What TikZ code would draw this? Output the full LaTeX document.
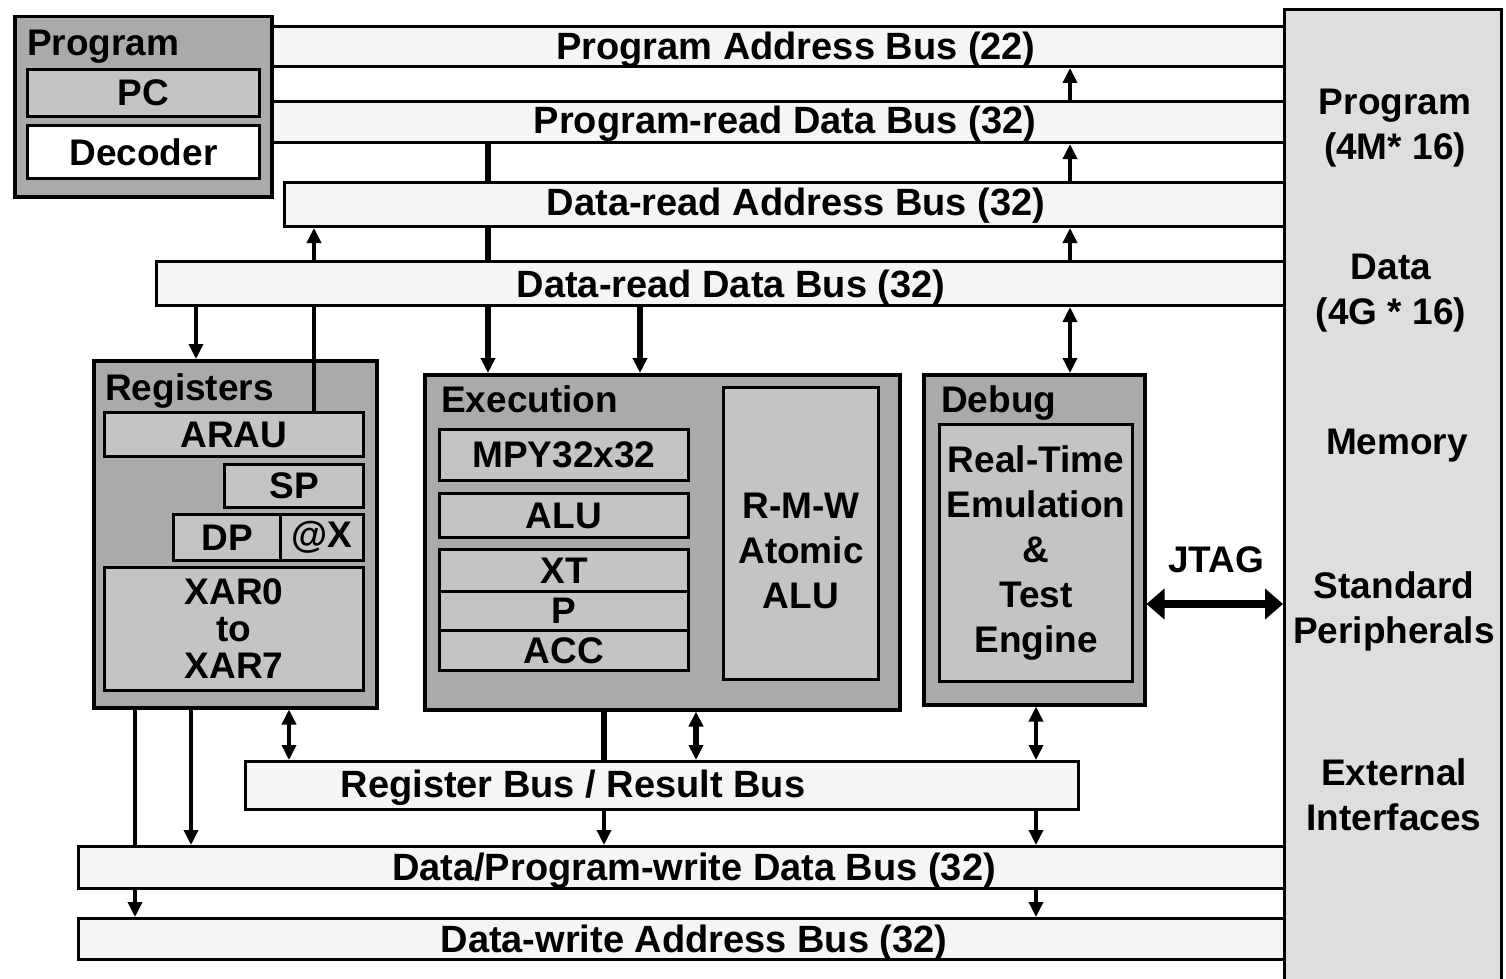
\documentclass[tikz,border=0pt]{standalone}
\usepackage{fontspec}
\setmainfont{Liberation Sans}
\usetikzlibrary{arrows.meta}

\definecolor{blockgray}{RGB}{170,170,170}
\definecolor{unitgray}{RGB}{196,196,196}
\definecolor{memgray}{RGB}{222,222,222}
\definecolor{busgray}{RGB}{245,245,245}

\newcommand{\blkfont}{\fontsize{37}{45}\selectfont\bfseries}
\newcommand{\busfont}{\fontsize{38}{45}\selectfont\bfseries}
\newcommand{\xarfont}{\fontsize{37}{37}\selectfont\bfseries}

\tikzset{
  wh/.style 2 args={minimum width=#1pt, minimum height=#2pt},
  blk/.style={draw, line width=3.5pt, fill=blockgray, anchor=north west, inner sep=0pt},
  unit/.style={draw, line width=3pt, fill=unitgray, anchor=north west, inner sep=0pt, font=\blkfont},
  bus/.style={draw, line width=3pt, fill=busgray, anchor=north west, inner sep=0pt},
  memory/.style={draw, line width=3pt, fill=memgray, anchor=north west, inner sep=0pt},
  title/.style={anchor=base west, inner sep=0pt, font=\blkfont},
  buslabel/.style={anchor=base, inner sep=0pt, font=\busfont},
  memtext/.style={align=center, inner sep=0pt, font=\blkfont},
  wire/.style={line width=3.5pt},
  fatwire/.style={line width=6pt},
  jtag/.style={line width=8pt, >={Triangle[length=18pt,width=30pt]}, <->}
}

\begin{document}
\begin{tikzpicture}[x=1pt, y=-1pt, >={Triangle[length=15pt,width=14pt]}]

  \useasboundingbox (0,0) rectangle (1506,979);

  % buses
  \node[bus, wh={1013}{40}] (pab)  at (270,25)  {};
  \node[bus, wh={1013}{41}] (prdb) at (270,100) {};
  \node[bus, wh={1000}{44}] (drab) at (283,181) {};
  \node[bus, wh={1128}{44}] (drdb) at (155,260) {};
  \node[bus, wh={833}{48}]  (rrb)  at (244,760) {};
  \node[bus, wh={1206}{42}] (dpw)  at (77,845)  {};
  \node[bus, wh={1206}{41}] (dwa)  at (77,917)  {};

  \node[buslabel] (pabt)  at (796,60)  {Program Address Bus (22)};
  \node[buslabel] (prdbt) at (785,134) {Program-read Data Bus (32)};
  \node[buslabel] (drabt) at (796,215) {Data-read Address Bus (32)};
  \node[buslabel] (drdbt) at (731,297) {Data-read Data Bus (32)};
  \node[buslabel] (rrbt)  at (573,797) {Register Bus / Result Bus};
  \node[buslabel] (dpwt)  at (694,880) {Data/Program-write Data Bus (32)};
  \node[buslabel] (dwat)  at (694,952) {Data-write Address Bus (32)};

  % memory side
  \node[memory, wh={217}{985}] (mem) at (1283,8) {};
  \node[memtext] (mprog) at (1395,128) {Program\\(4M* 16)};
  \node[memtext] (mdata) at (1391,293) {Data\\(4G * 16)};
  \node[memtext] (mmem)  at (1397,446) {Memory};
  \node[memtext] (mper)  at (1394,611) {Standard\\Peripherals};
  \node[memtext] (mext)  at (1394,795) {External\\Interfaces};

  % program
  \node[blk, wh={257}{180}] (prog) at (13,15) {};
  \node[title] (progt) at (27,56) {Program};
  \node[unit, wh={232}{47}] (pc) at (26,68) {PC};
  \node[unit, fill=white, wh={232}{53}] (dec) at (26,124) {Decoder};

  % registers
  \node[blk, wh={283}{347}] (regs) at (92,359) {};
  \node[title] (regst) at (105,400) {Registers};
  \node[unit, wh={259}{44}] (arau) at (103,411) {ARAU};
  \node[unit, wh={139}{43}] (sp) at (223,463) {SP};
  \node[unit, wh={107}{46}] (dp) at (172,513) {DP};
  \node[unit, wh={83}{46}] (atx) at (279,513) {@X};
  \node[unit, wh={259}{123}, font=\xarfont, align=center] (xar) at (103,566) {XAR0\\to\\XAR7};

  % execution
  \node[blk, wh={475}{335}] (exec) at (423,373) {};
  \node[title] (exect) at (441,412) {Execution};
  \node[unit, wh={249}{51}] (mpy) at (438,428) {MPY32x32};
  \node[unit, wh={249}{44}] (alu) at (438,492) {ALU};
  \node[unit, wh={249}{42}] (xt) at (438,548) {XT};
  \node[unit, wh={249}{39}] (p) at (438,590) {P};
  \node[unit, wh={249}{40}] (acc) at (438,629) {ACC};
  \node[unit, wh={155}{292},
    label={[yshift=-17pt, align=center, font=\blkfont]center:R-M-W\\Atomic\\ALU}] (rmw) at (722,386) {};

  % debug
  \node[blk, wh={221}{330}] (debug) at (922,373) {};
  \node[title] (debugt) at (941,412) {Debug};
  \node[unit, wh={193}{257}, align=center] (rte) at (938,423) {Real-Time\\Emulation\\\&\\Test\\Engine};
  \node[inner sep=0pt, font=\blkfont] (jtagt) at (1216,560) {JTAG};

  % columns of the connectors
  \coordinate (c1) at (1070,0);  \coordinate (c2) at (488,0);
  \coordinate (c3) at (314,0);   \coordinate (c4) at (196,0);
  \coordinate (c5) at (640,0);   \coordinate (c6) at (135,0);
  \coordinate (c7) at (191,0);   \coordinate (c8) at (289,0);
  \coordinate (c9) at (604,0);   \coordinate (c10) at (696,0);
  \coordinate (c11) at (1036,0); \coordinate (c12) at (0,604);

  % read side
  \draw[wire,->] (prdb.north -| c1) -- (pab.south -| c1);
  \draw[wire,->] (drab.north -| c1) -- (prdb.south -| c1);
  \draw[wire,->] (drdb.north -| c1) -- (drab.south -| c1);
  \draw[wire,<->] (debug.north -| c1) -- (drdb.south -| c1);

  \draw[fatwire] (prdb.south -| c2) -- (drab.north -| c2);
  \draw[fatwire] (drab.south -| c2) -- (drdb.north -| c2);
  \draw[fatwire,->] (drdb.south -| c2) -- (exec.north -| c2);
  \draw[fatwire,->] (drdb.south -| c5) -- (exec.north -| c5);

  \draw[wire,->] (drdb.north -| c3) -- (drab.south -| c3);
  \draw[wire] (arau.north -| c3) -- (drdb.south -| c3);
  \draw[wire,->] (drdb.south -| c4) -- (regs.north -| c4);

  % write side
  \draw[wire] (regs.south -| c6) -- (dpw.north -| c6);
  \draw[wire,->] (dpw.south -| c6) -- (dwa.north -| c6);
  \draw[wire,->] (regs.south -| c7) -- (dpw.north -| c7);
  \draw[wire,<->] (regs.south -| c8) -- (rrb.north -| c8);

  \draw[fatwire] (exec.south -| c9) -- (rrb.north -| c9);
  \draw[wire,->] (rrb.south -| c9) -- (dpw.north -| c9);
  \draw[fatwire,<->] (exec.south -| c10) -- (rrb.north -| c10);

  \draw[wire,<->] (debug.south -| c11) -- (rrb.north -| c11);
  \draw[wire,->] (rrb.south -| c11) -- (dpw.north -| c11);
  \draw[wire,->] (dpw.south -| c11) -- (dwa.north -| c11);

  \draw[jtag] (debug.east |- c12) -- (mem.west |- c12);

\end{tikzpicture}
\end{document}
